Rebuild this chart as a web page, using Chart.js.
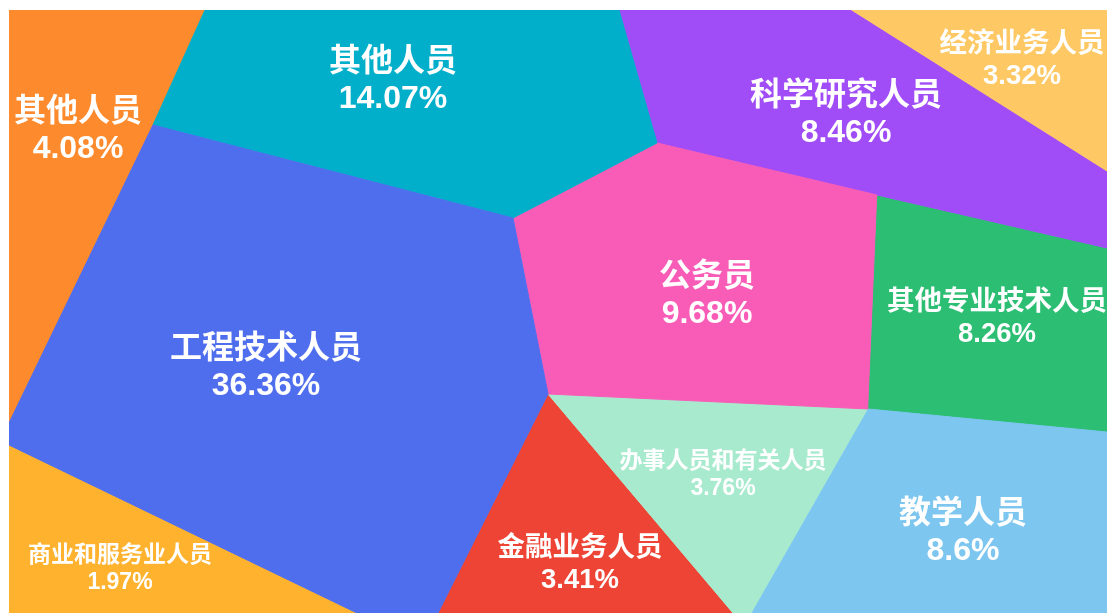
<!DOCTYPE html>
<html><head><meta charset="utf-8">
<script src="https://cdn.jsdelivr.net/npm/chart.js@4.4.1/dist/chart.umd.min.js"></script>
<style>html,body{margin:0;padding:0;background:#fff;overflow:hidden}</style>
</head><body>
<canvas id="c" width="1107" height="613"></canvas>
<script>
// ---- data ----
const categories = ['工程技术人员','其他人员','公务员','教学人员','科学研究人员','其他专业技术人员','其他人员','办事人员和有关人员','金融业务人员','经济业务人员','商业和服务业人员'];
const shares = [36.36, 14.07, 9.68, 8.6, 8.46, 8.26, 4.08, 3.76, 3.41, 3.32, 1.97];

// ---- styles ----
const cellColors = ['#4F6EEE','#02AFCB','#F85CB6','#7CC6F0','#A14DF7','#2CBE73','#FD8A2C','#A8EACE','#EE4436','#FEC864','#FEB22E'];
const labelSizes = [32, 32, 32, 32, 32, 27.5, 32, 23, 27.5, 27.5, 23];

// ---- Voronoi-treemap layout (power diagram sites + weights, in plot units) ----
const siteX = [300.000, 350.024, 436.719, 436.617, 485.191, 437.924, -6665.526, 436.095, 375.059, 591.841, 213.050];
const siteY = [370.000, 176.357, 342.811, 356.438, 137.738, 342.862, -2995.892, 356.140, 407.701, -31.454, 550.110];
const siteW = [0.0, -40177.8, -47076.4, -48606.3, -105978.6, -48120.3, 56150620.1, -48123.8, -31983.5, -187016.7, -37621.3];
const labelX = [266, 393, 707, 963, 846, 997, 78, 723, 580, 1022, 120];
const labelY = [368, 81, 296, 533, 115, 318, 131, 475, 564, 60, 569];

const X0 = 9, X1 = 1107, Y0 = 10, Y1 = 613;

// clip polygon to half-plane f(p) >= 0
function clip(poly, f){
  const out = [];
  for (let i = 0; i < poly.length; i++){
    const a = poly[i], b = poly[(i+1) % poly.length];
    const fa = f(a), fb = f(b);
    if (fa >= 0) out.push(a);
    if ((fa >= 0) !== (fb >= 0)){
      const t = fa / (fa - fb);
      out.push([a[0] + t*(b[0]-a[0]), a[1] + t*(b[1]-a[1])]);
    }
  }
  return out;
}
// power-diagram cell of site i inside the plot rectangle
function powerCell(i){
  let poly = [[X0,Y0],[X1,Y0],[X1,Y1],[X0,Y1]];
  const xi = siteX[i], yi = siteY[i];
  for (let j = 0; j < siteX.length; j++){
    if (j === i) continue;
    const xj = siteX[j], yj = siteY[j];
    const A = 2*(xj - xi), B = 2*(yj - yi);
    const C = (xj*xj + yj*yj) - (xi*xi + yi*yi) - siteW[j] + siteW[i];
    poly = clip(poly, p => C - A*p[0] - B*p[1]);
    if (!poly.length) break;
  }
  return poly;
}

const datasets = categories.map((name, i) => {
  const pts = powerCell(i).map(p => ({x: p[0], y: p[1]}));
  if (pts.length) pts.push(pts[0]);
  return {
    label: name + ' ' + shares[i] + '%',
    data: pts,
    showLine: true,
    fill: 'shape',
    backgroundColor: cellColors[i],
    borderColor: cellColors[i],
    borderWidth: 1,
    pointRadius: 0,
    pointHoverRadius: 0,
    tension: 0
  };
});

const labelPlugin = {
  id: 'cellLabels',
  afterDatasetsDraw(chart){
    const ctx = chart.ctx, xs = chart.scales.x, ys = chart.scales.y;
    ctx.save();
    ctx.fillStyle = '#ffffff';
    ctx.textAlign = 'center';
    ctx.textBaseline = 'middle';
    categories.forEach((name, i) => {
      const fs = labelSizes[i];
      const x = xs.getPixelForValue(labelX[i]);
      const y = ys.getPixelForValue(labelY[i]);
      ctx.font = 'bold ' + fs + 'px "Liberation Sans","Noto Sans CJK SC",sans-serif';
      ctx.fillText(name, x, y - fs*0.58);
      ctx.fillText(shares[i] + '%', x, y + fs*0.58);
    });
    ctx.restore();
  }
};

new Chart(document.getElementById('c'), {
  type: 'scatter',
  data: { datasets },
  plugins: [labelPlugin],
  options: {
    responsive: false,
    animation: false,
    layout: { padding: { left: 9, top: 10, right: 0, bottom: 0 } },
    scales: {
      x: { type: 'linear', min: X0, max: X1, display: false },
      y: { type: 'linear', min: Y0, max: Y1, reverse: true, display: false }
    },
    plugins: { legend: { display: false }, tooltip: { enabled: false } }
  }
});
</script></body></html>
